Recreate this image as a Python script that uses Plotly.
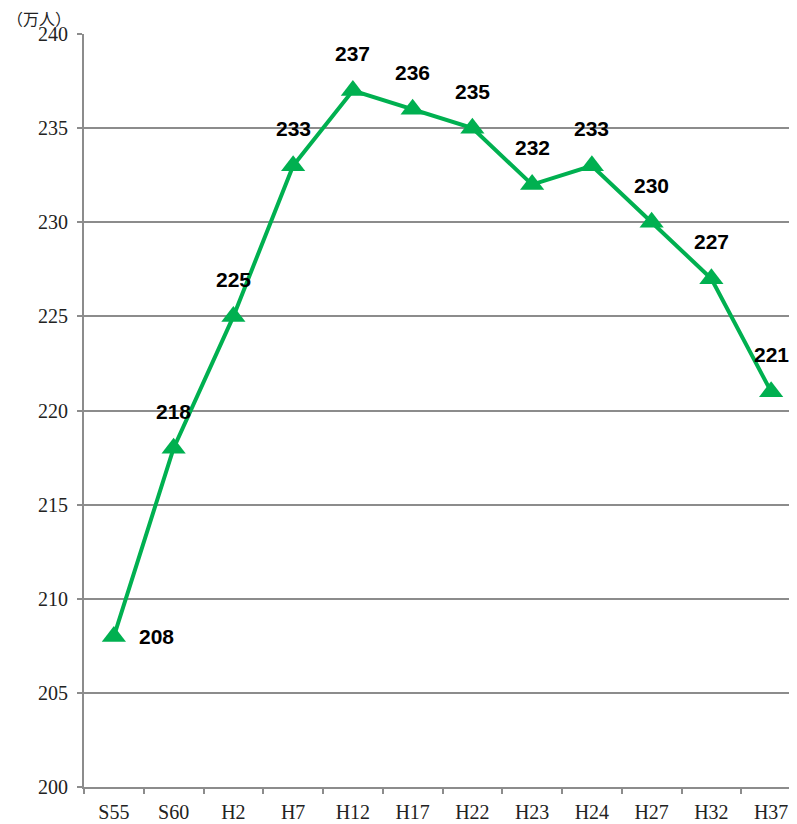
import plotly.graph_objects as go

categories = ["S55", "S60", "H2", "H7", "H12", "H17", "H22", "H23", "H24", "H27", "H32", "H37"]
values = [208, 218, 225, 233, 237, 236, 235, 232, 233, 230, 227, 221]
y_ticks = [200, 205, 210, 215, 220, 225, 230, 235, 240]
unit_label = "（万人）"

green = "#00B050"
grid = "#8C8C8C"

fig = go.Figure()
fig.add_trace(go.Scatter(
    x=categories, y=values, mode="lines+markers",
    line=dict(color=green, width=4),
    marker=dict(symbol="triangle-up", size=21, color=green),
    hoverinfo="skip", showlegend=False, cliponaxis=False,
))

label_font = dict(family="Liberation Sans, Arial", size=21, color="black")
for i, (c, v) in enumerate(zip(categories, values)):
    if i == 0:
        fig.add_annotation(x=c, y=v, text=f"<b>{v}</b>", showarrow=False,
                           xshift=43, yshift=0, font=label_font)
    else:
        fig.add_annotation(x=c, y=v, text=f"<b>{v}</b>", showarrow=False,
                           xshift=0, yshift=37, font=label_font)

fig.add_annotation(xref="paper", yref="paper", x=0, y=1, xanchor="right", yanchor="bottom",
                   xshift=-12, yshift=3, borderpad=0, text=unit_label, showarrow=False,
                   font=dict(family="Noto Sans CJK JP", size=16, color="#222"))

tick_font = dict(family="Liberation Serif, DejaVu Serif, serif", size=20, color="#222")
fig.update_layout(
    width=797, height=824,
    margin=dict(l=76, r=4, t=26, b=45, autoexpand=False),
    paper_bgcolor="white", plot_bgcolor="white",
    xaxis=dict(
        type="category", tickson="boundaries", ticks="outside", ticklen=5,
        tickcolor=grid, tickwidth=2, showgrid=False, automargin=False,
        showline=True, linecolor=grid, linewidth=2,
        tickfont=tick_font, ticklabelstandoff=6,
        range=[-0.5, len(categories) - 0.5],
    ),
    yaxis=dict(
        range=[200, 240], tickvals=y_ticks, ticks="outside", ticklen=5, automargin=False,
        tickcolor=grid, tickwidth=2, showgrid=True, gridcolor=grid, gridwidth=1.5,
        showline=True, linecolor=grid, linewidth=2, zeroline=False,
        tickfont=tick_font, ticklabelstandoff=5,
    ),
)

fig.write_html("out.html")
